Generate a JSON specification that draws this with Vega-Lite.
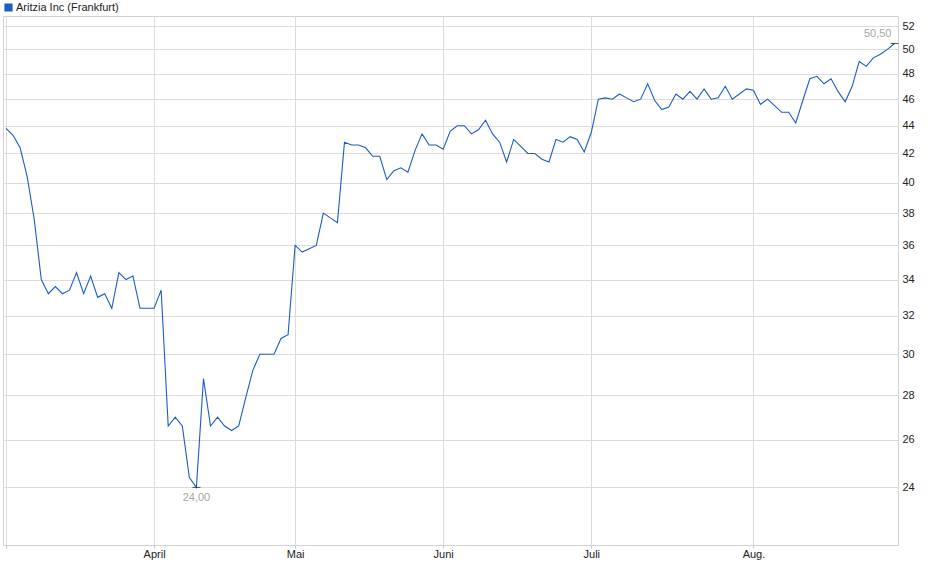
{
  "$schema": "https://vega.github.io/schema/vega-lite/v6.json",
  "description": "Aritzia Inc (Frankfurt), Schlusskurse je Handelstag, Maerz bis August",
  "width": 895,
  "height": 529,
  "autosize": {"type": "none"},
  "padding": {"left": 3, "top": 16, "right": 42, "bottom": 34},
  "background": "white",
  "data": {
    "values": [
      {"i": 0, "v": 43.8}, {"i": 1, "v": 43.3}, {"i": 2, "v": 42.4}, {"i": 3, "v": 40.4},
      {"i": 4, "v": 37.6}, {"i": 5, "v": 34.0}, {"i": 6, "v": 33.2}, {"i": 7, "v": 33.6},
      {"i": 8, "v": 33.2}, {"i": 9, "v": 33.4}, {"i": 10, "v": 34.4}, {"i": 11, "v": 33.2},
      {"i": 12, "v": 34.2}, {"i": 13, "v": 33.0}, {"i": 14, "v": 33.2}, {"i": 15, "v": 32.4},
      {"i": 16, "v": 34.4}, {"i": 17, "v": 34.0}, {"i": 18, "v": 34.2}, {"i": 19, "v": 32.4},
      {"i": 20, "v": 32.4}, {"i": 21, "v": 32.4}, {"i": 22, "v": 33.4}, {"i": 23, "v": 26.6},
      {"i": 24, "v": 27.0}, {"i": 25, "v": 26.6}, {"i": 26, "v": 24.4}, {"i": 27, "v": 24.0},
      {"i": 28, "v": 28.8}, {"i": 29, "v": 26.6}, {"i": 30, "v": 27.0}, {"i": 31, "v": 26.6},
      {"i": 32, "v": 26.4}, {"i": 33, "v": 26.6}, {"i": 34, "v": 27.9}, {"i": 35, "v": 29.2},
      {"i": 36, "v": 30.0}, {"i": 37, "v": 30.0}, {"i": 38, "v": 30.0}, {"i": 39, "v": 30.8},
      {"i": 40, "v": 31.0}, {"i": 41, "v": 36.0}, {"i": 42, "v": 35.6}, {"i": 43, "v": 35.8},
      {"i": 44, "v": 36.0}, {"i": 45, "v": 38.0}, {"i": 46, "v": 37.7}, {"i": 47, "v": 37.4},
      {"i": 48, "v": 42.8}, {"i": 49, "v": 42.6}, {"i": 50, "v": 42.6}, {"i": 51, "v": 42.4},
      {"i": 52, "v": 41.8}, {"i": 53, "v": 41.8}, {"i": 54, "v": 40.2}, {"i": 55, "v": 40.8},
      {"i": 56, "v": 41.0}, {"i": 57, "v": 40.7}, {"i": 58, "v": 42.2}, {"i": 59, "v": 43.4},
      {"i": 60, "v": 42.6}, {"i": 61, "v": 42.6}, {"i": 62, "v": 42.3}, {"i": 63, "v": 43.6},
      {"i": 64, "v": 44.0}, {"i": 65, "v": 44.0}, {"i": 66, "v": 43.4}, {"i": 67, "v": 43.7},
      {"i": 68, "v": 44.4}, {"i": 69, "v": 43.4}, {"i": 70, "v": 42.8}, {"i": 71, "v": 41.4},
      {"i": 72, "v": 43.0}, {"i": 73, "v": 42.5}, {"i": 74, "v": 42.0}, {"i": 75, "v": 42.0},
      {"i": 76, "v": 41.6}, {"i": 77, "v": 41.4}, {"i": 78, "v": 43.0}, {"i": 79, "v": 42.8},
      {"i": 80, "v": 43.2}, {"i": 81, "v": 43.0}, {"i": 82, "v": 42.1}, {"i": 83, "v": 43.5},
      {"i": 84, "v": 46.0}, {"i": 85, "v": 46.1}, {"i": 86, "v": 46.0}, {"i": 87, "v": 46.4},
      {"i": 88, "v": 46.1}, {"i": 89, "v": 45.8}, {"i": 90, "v": 46.0}, {"i": 91, "v": 47.2},
      {"i": 92, "v": 45.9}, {"i": 93, "v": 45.2}, {"i": 94, "v": 45.4}, {"i": 95, "v": 46.4},
      {"i": 96, "v": 46.0}, {"i": 97, "v": 46.6}, {"i": 98, "v": 46.0}, {"i": 99, "v": 46.8},
      {"i": 100, "v": 46.0}, {"i": 101, "v": 46.1}, {"i": 102, "v": 47.0}, {"i": 103, "v": 46.0},
      {"i": 104, "v": 46.4}, {"i": 105, "v": 46.8}, {"i": 106, "v": 46.7}, {"i": 107, "v": 45.6},
      {"i": 108, "v": 46.0}, {"i": 109, "v": 45.5}, {"i": 110, "v": 45.0}, {"i": 111, "v": 45.0},
      {"i": 112, "v": 44.2}, {"i": 113, "v": 45.9}, {"i": 114, "v": 47.6}, {"i": 115, "v": 47.8},
      {"i": 116, "v": 47.2}, {"i": 117, "v": 47.6}, {"i": 118, "v": 46.6}, {"i": 119, "v": 45.8},
      {"i": 120, "v": 47.0}, {"i": 121, "v": 49.0}, {"i": 122, "v": 48.6}, {"i": 123, "v": 49.3},
      {"i": 124, "v": 49.6}, {"i": 125, "v": 50.0}, {"i": 126, "v": 50.5}
    ]
  },
  "encoding": {
    "x": {
      "field": "i",
      "type": "quantitative",
      "scale": {"domain": [-0.43, 126.5], "nice": false, "zero": false},
      "axis": {
        "title": null,
        "values": [0, 21, 41, 62, 83, 106],
        "labelExpr": "datum.value == 21 ? 'April' : datum.value == 41 ? 'Mai' : datum.value == 62 ? 'Juni' : datum.value == 83 ? 'Juli' : datum.value == 106 ? 'Aug.' : ''",
        "tickSize": 3,
        "labelPadding": 0
      }
    },
    "y": {
      "field": "v",
      "type": "quantitative",
      "scale": {"type": "log", "domain": [21.79, 52.88], "nice": false, "zero": false},
      "axis": {
        "title": null,
        "orient": "right",
        "values": [24, 26, 28, 30, 32, 34, 36, 38, 40, 42, 44, 46, 48, 50, 52],
        "format": "d",
        "ticks": false,
        "labelPadding": 4
      }
    }
  },
  "layer": [
    {
      "mark": {"type": "line", "strokeWidth": 1.1, "interpolate": "linear"},
      "encoding": {
        "color": {
          "datum": "Aritzia Inc (Frankfurt)",
          "scale": {"range": ["#1c5cc4"]},
          "legend": {
            "title": null,
            "orient": "none",
            "legendX": 0,
            "legendY": -14,
            "padding": 0,
            "symbolType": "square",
            "symbolSize": 49,
            "labelOffset": 2,
            "labelFontSize": 11,
            "labelColor": "#222222",
            "encode": {
              "symbols": {
                "update": {
                  "fill": {"value": "#1f5fc2"},
                  "stroke": {"value": "#0a1f4a"},
                  "strokeWidth": {"value": 1.2}
                }
              }
            }
          }
        }
      }
    },
    {
      "transform": [
        {"joinaggregate": [{"op": "min", "field": "v", "as": "vmin"}, {"op": "max", "field": "v", "as": "vmax"}]},
        {"filter": "datum.v == datum.vmin || datum.v == datum.vmax"}
      ],
      "mark": {"type": "tick", "orient": "horizontal", "size": 8, "thickness": 1, "color": "#111111"}
    },
    {
      "transform": [
        {"joinaggregate": [{"op": "min", "field": "v", "as": "vmin"}]},
        {"filter": "datum.v == datum.vmin"}
      ],
      "mark": {"type": "text", "align": "center", "baseline": "middle", "dy": 11, "fontSize": 11, "color": "#aaa69f"},
      "encoding": {"text": {"field": "v", "type": "quantitative", "format": ".2f"}}
    },
    {
      "transform": [
        {"joinaggregate": [{"op": "max", "field": "v", "as": "vmax"}]},
        {"filter": "datum.v == datum.vmax"}
      ],
      "mark": {"type": "text", "align": "right", "baseline": "middle", "dx": -3, "dy": -9, "fontSize": 11, "color": "#aaa69f"},
      "encoding": {"text": {"field": "v", "type": "quantitative", "format": ".2f"}}
    }
  ],
  "config": {
    "locale": {
      "number": {"decimal": ",", "thousands": ".", "grouping": [3], "currency": ["", " €"]}
    },
    "font": "Liberation Sans",
    "view": {"stroke": "#d2d2d2", "strokeWidth": 1},
    "axis": {
      "domain": false,
      "gridColor": "#dcdcdc",
      "gridWidth": 1,
      "tickColor": "#c8c8c8",
      "labelFont": "Liberation Sans",
      "labelFontSize": 11,
      "labelColor": "#222222"
    },
    "legend": {"labelFont": "Liberation Sans"}
  }
}
